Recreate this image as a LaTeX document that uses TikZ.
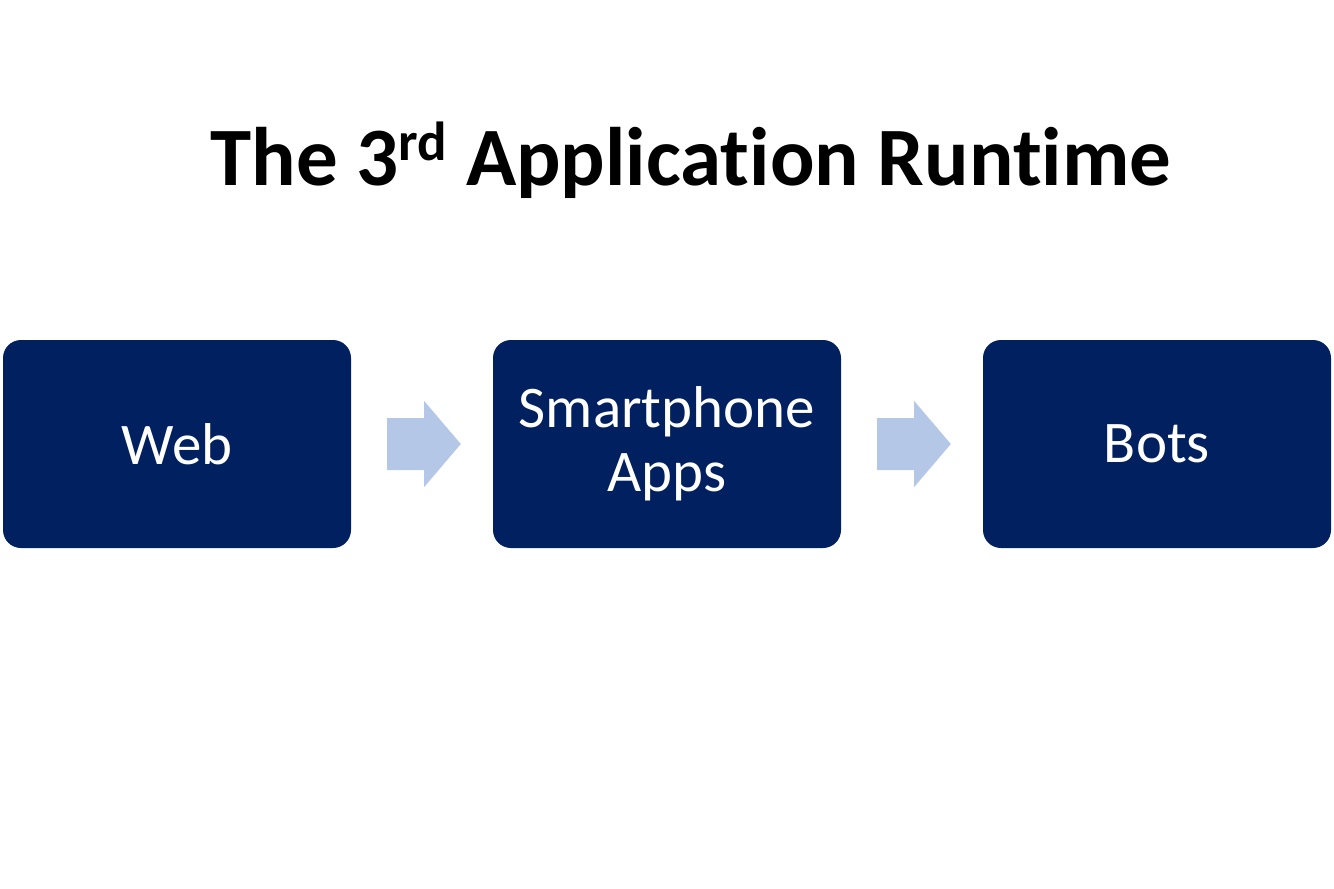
\documentclass[tikz,border=0pt]{standalone}
\usepackage{fontspec}
\setmainfont[Ligatures={NoCommon}]{Carlito}
\usetikzlibrary{calc}
\definecolor{navy}{HTML}{002060}
\definecolor{lightarrow}{HTML}{B4C7E7}
\newcommand{\supr}[1]{\raisebox{25pt}{\fontsize{55}{60}\selectfont #1}}
\tikzset{
  stagebox/.style={fill=navy, draw=none, rounded corners=18pt, minimum width=348pt, minimum height=208pt, text=white, align=center, inner sep=0pt, font=\fontsize{59}{64}\selectfont},
  flowarrow/.style={fill=lightarrow, draw=none},
  titletext/.style={font=\fontsize{83}{100}\selectfont\bfseries, anchor=base, inner sep=0pt}
}
\begin{document}
\begin{tikzpicture}[x=1pt,y=1pt]
\useasboundingbox (0,0) rectangle (1334,-889);
\node[titletext] (title) at (691,-185) {The 3\supr{rd} Application Runtime};
\node[stagebox] (web) at (177,-444) {Web};
\node[stagebox] (smart) at (667,-444) {Smartphone\\Apps};
\node[stagebox] (bots) at (1157,-444) {Bots};
\foreach \a/\b in {web/smart, smart/bots}{
  \fill[flowarrow] ($(\a.east)+(36,26)$) -- ($(\a.east)+(73,26)$) -- ($(\a.east)+(73,43)$)
    -- ($(\b.west)+(-32,0)$) -- ($(\a.east)+(73,-43)$) -- ($(\a.east)+(73,-26)$)
    -- ($(\a.east)+(36,-26)$) -- cycle;
}
\end{tikzpicture}
\end{document}
